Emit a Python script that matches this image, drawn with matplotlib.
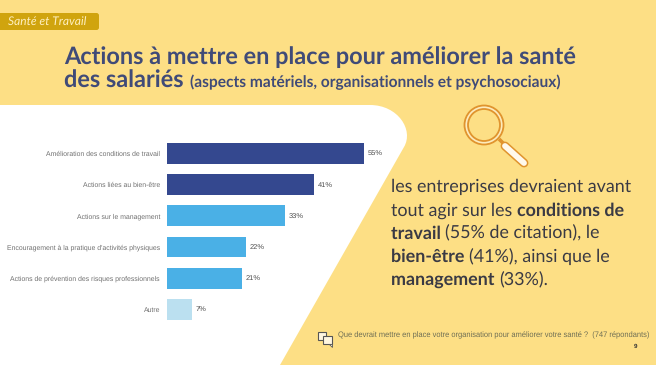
import matplotlib
matplotlib.use("Agg")
import matplotlib.pyplot as plt
from matplotlib.patches import FancyBboxPatch, PathPatch, Circle, Polygon, Rectangle
from matplotlib.path import Path
from matplotlib.lines import Line2D

categories = ["Amélioration des conditions de travail", "Actions liées au bien-être",
              "Actions sur le management", "Encouragement à la pratique d'activités physiques",
              "Actions de prévention des risques professionnels", "Autre"]
values = [55, 41, 33, 22, 21, 7]
bar_colors = ["#34488F", "#34488F", "#4AB0E6", "#4AB0E6", "#4AB0E6", "#BBE0F0"]
value_labels = ["55%", "41%", "33%", "22%", "21%", "7%"]

W, H = 656, 365
BG = "#FDDF85"
NAVY = "#404B78"
plt.rcParams['font.family'] = ['Lato', 'DejaVu Sans']
plt.rcParams['text.hinting'] = 'no_hinting'
fig = plt.figure(figsize=(W/100, H/100), dpi=100, facecolor=BG)

bg = fig.add_axes([0, 0, 1, 1])
bg.set_xlim(0, W); bg.set_ylim(H, 0); bg.axis("off")

# white panel
verts = [(0, 105), (370, 105), (398, 105), (414, 130), (404, 147), (280, 365), (0, 365), (0, 105)]
codes = [Path.MOVETO, Path.LINETO, Path.CURVE4, Path.CURVE4, Path.CURVE4, Path.LINETO, Path.LINETO, Path.CLOSEPOLY]
bg.add_patch(PathPatch(Path(verts, codes), fc="white", ec="none"))

# tag
bg.add_patch(FancyBboxPatch((-10, 13), 109, 17, boxstyle="round,pad=0,rounding_size=2.5", fc="#D0A40E", ec="none"))
bg.text(8, 21.5, "Santé et Travail", fontsize=8.65, style="italic", color="#FFF0C0", va="center", ha="left")

# titles
bg.text(64, 57, "Actions à mettre en place pour améliorer la santé", fontsize=16.93, fontweight="bold", color=NAVY, va="center")
bg.text(64, 80.5, "des salariés", fontsize=16.93, fontweight="bold", color=NAVY, va="center")
bg.text(189.5, 82.5, "(aspects matériels, organisationnels et psychosociaux)", fontsize=11.18, fontweight="bold", color=NAVY, va="center")

# magnifier
OR = "#E0942E"
bg.add_line(Line2D([499, 507], [139, 147], color=OR, lw=2.6, solid_capstyle="butt"))
bg.add_patch(Circle((484, 125), 19.5, fc="#FDEBBC", ec=OR, lw=1.3))
bg.add_patch(Circle((484, 125), 16, fc=BG, ec=OR, lw=1.3))
bg.add_line(Line2D([505, 524], [146, 163], color=OR, lw=6.4, solid_capstyle="round"))
bg.add_line(Line2D([505, 524], [146, 163], color="#FFF9EC", lw=4.2, solid_capstyle="round"))

# body text
tc = "#3A3A44"
fs = 12.9
x0 = 391
lines_y = [187, 210.5, 233.5, 257, 280]
r = fig.canvas.get_renderer()
bg.text(x0, lines_y[0], "les entreprises devraient avant", fontsize=fs, color=tc, va="center")
def seq(y, parts):
    x = x0
    for s, w in parts:
        t = bg.text(x, y, s, fontsize=fs, color=tc, va="center", fontweight=w)
        x += t.get_window_extent(r).width
seq(lines_y[1], [("tout agir sur les ", "normal"), ("conditions de", "bold")])
seq(lines_y[2], [("travail ", "bold"), ("(55% de citation), le", "normal")])
seq(lines_y[3], [("bien-être ", "bold"), ("(41%), ainsi que le", "normal")])
seq(lines_y[4], [("management ", "bold"), ("(33%).", "normal")])

# footnote
bg.text(338, 335.5, "Que devrait mettre en place votre organisation pour améliorer votre santé ?  (747 répondants)",
        fontsize=5.42, color="#6F6F55", va="center", family="Liberation Sans")
bg.text(635.5, 346.5, "9", fontsize=4.5, color="#333333", va="center", ha="center", fontweight="bold", family="Liberation Sans")
bg.add_patch(Rectangle((318, 332), 8, 8, fc="#FFF6E0", ec="#555555", lw=0.8))
bg.add_patch(Rectangle((323, 336), 9, 8, fc="#FFF6E0", ec="#555555", lw=0.8))
bg.add_patch(Polygon([(329, 344), (332, 344), (332, 346.5)], fc="#FFF6E0", ec="#555555", lw=0.6))

# chart axes: x from 167.5px, 3.57 px per %
left, right = 167.5, 167.5 + 3.57*65
top, bottom = 137.9, 325
ax = fig.add_axes([left/W, 1-bottom/H, (right-left)/W, (bottom-top)/H])
ax.patch.set_alpha(0)
ys = list(range(len(categories)))
ax.barh(ys, values, height=0.665, color=bar_colors)
ax.set_xlim(0, 65); ax.set_ylim(5.5, -0.5)
ax.set_yticks(ys, categories, fontsize=4.92, color="#707070", family="Liberation Sans")
ax.tick_params(axis="y", length=0, pad=5.4)
ax.set_xticks([])
for s in ax.spines.values():
    s.set_visible(False)
for y, v, l in zip(ys, values, value_labels):
    ax.text(v + 1, y, l, fontsize=5.4, color="#505050", va="center", family="Liberation Sans")

fig.savefig("out.png", dpi=100, facecolor=BG)
